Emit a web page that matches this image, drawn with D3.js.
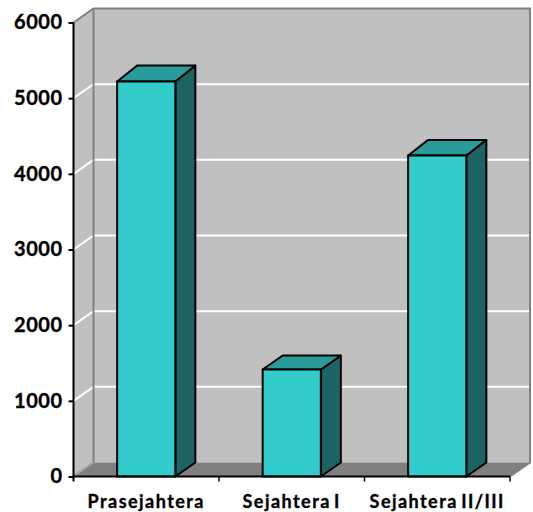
<!DOCTYPE html>
<html><head><meta charset="utf-8">
<script src="https://cdn.jsdelivr.net/npm/d3@7"></script>
<style>html,body{margin:0;padding:0;background:#fff}svg{display:block}text{font-family:Lato,Carlito,sans-serif;font-weight:700;fill:#000;stroke:#000;stroke-width:0.35px}</style>
</head><body><svg id="c" width="533" height="512"></svg>
<script>
const categories = ["Prasejahtera","Sejahtera I","Sejahtera II/III"];
const values = [5220,1414,4242];
const tickValues = [0,1000,2000,3000,4000,5000,6000];

const svg = d3.select("#c");
const x0=73.5, x1=510, y0=476.5, yTop=22.5;
const dx=20, dy=-14;
const x = d3.scaleBand().domain(categories).range([x0,x1]).paddingInner(0.6).paddingOuter(0.3);
const y = d3.scaleLinear().domain([0,6000]).range([y0,yTop]);
const poly=(pts,fill,stroke,sw)=>svg.append("polygon").attr("points",pts.map(p=>p.join(",")).join(" ")).attr("fill",fill).attr("stroke",stroke||"none").attr("stroke-width",sw||0).attr("stroke-linejoin","round");

// walls
poly([[x0,y0],[x0+dx,y0+dy],[x0+dx,yTop+dy],[x0,yTop]],"#c0c0c0");
poly([[x0+dx,y0+dy],[x1+dx,y0+dy],[x1+dx,yTop+dy],[x0+dx,yTop+dy]],"#c0c0c0");
// floor
poly([[x0,y0],[x0+dx,y0+dy],[x1+dx,y0+dy],[x1,y0]],"#808080");

// grid
tickValues.filter(d=>d>0&&d<6000).forEach(d=>{
  svg.append("path").attr("d",`M${x0},${y(d)}L${x0+dx},${y(d)+dy}L${x1+dx},${y(d)+dy}`).attr("fill","none").attr("stroke","#fff").attr("stroke-width",2);
});
// wall frame
svg.append("path").attr("d",`M${x0},${yTop}L${x0+dx},${yTop+dy}L${x1+dx},${yTop+dy}L${x1+dx},${y0+dy}L${x1},${y0}`).attr("fill","none").attr("stroke","#808080").attr("stroke-width",2);
svg.append("path").attr("d",`M${x0+dx},${yTop+dy}V${y0+dy}L${x0},${y0}`).attr("fill","none").attr("stroke","#808080").attr("stroke-width",2);
svg.append("path").attr("d",`M${x0+dx},${y0+dy}L${x0},${y0}`).attr("fill","none").attr("stroke","#c0c0c0").attr("stroke-width",1);

// bars
categories.forEach((c,i)=>{
  const l=x(c), r=l+x.bandwidth(), t=y(values[i]);
  const bdy=dy-2*values[i]/d3.max(values)*(values[i]>2000?1:0);
  poly([[r,y0],[r+dx,y0+dy],[r+dx,t+bdy],[r,t]],"#1c6464","#000",2);
  poly([[l,t],[l+dx,t+bdy],[r+dx,t+bdy],[r,t]],"#299b9b","#000",2);
  poly([[l,y0],[r,y0],[r,t],[l,t]],"#33cccc","#000",2);
});

// axes
const ay=d3.axisLeft(y).tickValues(tickValues).tickFormat(d3.format("d")).tickSize(5).tickPadding(6);
const gy=svg.append("g").attr("transform",`translate(${x0},0)`).call(ay);
gy.selectAll("text").style("font-size","20px").style("letter-spacing","0.5px").attr("fill","#000");
gy.selectAll("path,line").attr("stroke","#000").attr("stroke-width",2);
gy.select(".domain").attr("d",`M0,${yTop}V${y0}`);

svg.append("path").attr("d",`M${x0-1},${y0}H${x1}`).attr("stroke","#000").attr("stroke-width",2);
const xt=d3.scaleLinear().domain([0,3]).range([x0,x1]);
d3.range(4).forEach(i=>svg.append("line").attr("x1",xt(i)).attr("x2",xt(i)).attr("y1",y0).attr("y2",y0+5).attr("stroke","#000").attr("stroke-width",i==0?2:1.5));
svg.selectAll("text.cat").data(categories).enter().append("text").attr("class","cat")
  .attr("x",d=>x(d)+x.bandwidth()/2).attr("y",508).attr("text-anchor","middle")
  .style("font-size","18px").style("letter-spacing","1.45px").style("word-spacing","-2.5px").text(d=>d);
</script></body></html>
